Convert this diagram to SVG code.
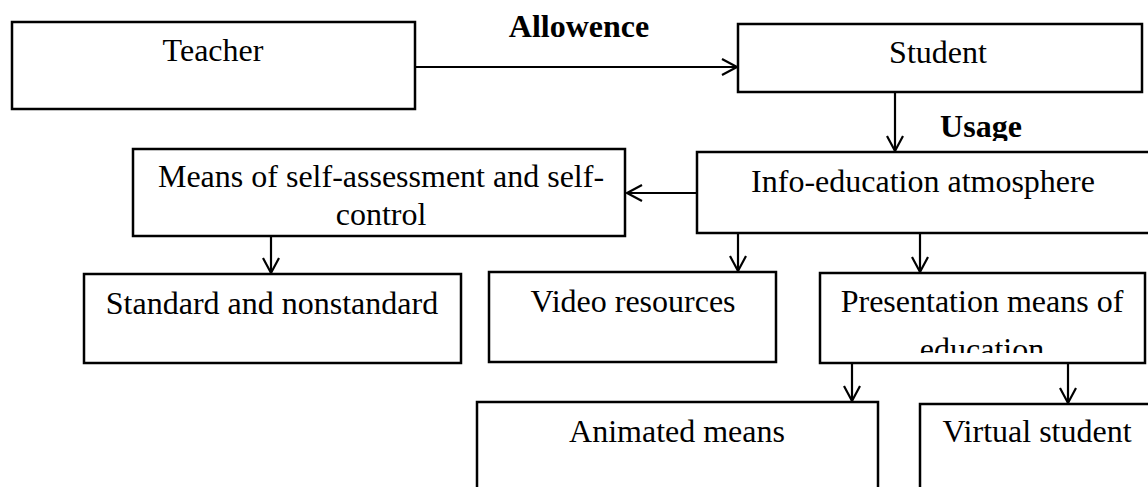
<svg xmlns="http://www.w3.org/2000/svg" width="1148" height="487" viewBox="0 0 1148 487">
<style>
.box{fill:#fff;stroke:#000;stroke-width:2.5}
.t{font-family:"Liberation Serif","Times New Roman",serif;font-size:32px;fill:#000;text-anchor:middle}
.b{font-weight:bold}
.c{stroke:#000;stroke-width:2.2;fill:none}
</style>
<defs>
<marker id="ah" markerUnits="userSpaceOnUse" markerWidth="20" markerHeight="20" refX="16" refY="9" orient="auto">
<path d="M1,1 L16,9 L1,17" fill="none" stroke="#000" stroke-width="2.2"/>
</marker>
<clipPath id="clipUsage"><rect x="900" y="100" width="200" height="41"/></clipPath>
<clipPath id="clipEdu"><rect x="820" y="320" width="330" height="33"/></clipPath>
</defs>
<rect width="1148" height="487" fill="#fff"/>
<g id="connectors">
<line class="c" x1="415" y1="67" x2="737" y2="67" marker-end="url(#ah)"/>
<line class="c" x1="895" y1="93" x2="895" y2="151" marker-end="url(#ah)"/>
<line class="c" x1="697" y1="193" x2="627" y2="193" marker-end="url(#ah)"/>
<line class="c" x1="271" y1="237" x2="271" y2="273" marker-end="url(#ah)"/>
<line class="c" x1="738" y1="234" x2="738" y2="271" marker-end="url(#ah)"/>
<line class="c" x1="920" y1="234" x2="920" y2="272" marker-end="url(#ah)"/>
<line class="c" x1="852" y1="364" x2="852" y2="401" marker-end="url(#ah)"/>
<line class="c" x1="1068" y1="364" x2="1068" y2="403" marker-end="url(#ah)"/>
</g>
<g id="label-allowence"><text class="t b" x="579" y="37">Allowence</text></g>
<g id="label-usage"><text class="t b" x="981" y="137" clip-path="url(#clipUsage)">Usage</text></g>
<g id="teacher"><rect class="box" x="12" y="22" width="403" height="87"/><text class="t" x="213" y="61">Teacher</text></g>
<g id="student"><rect class="box" x="738" y="24" width="404" height="68"/><text class="t" x="938" y="63">Student</text></g>
<g id="means"><rect class="box" x="133" y="149" width="492" height="87"/><text class="t" x="381" y="187">Means of self-assessment and self-</text><text class="t" x="381" y="225">control</text></g>
<g id="info"><rect class="box" x="697" y="152" width="460" height="81"/><text class="t" x="923" y="192">Info-education atmosphere</text></g>
<g id="standard"><rect class="box" x="84" y="274" width="377" height="89"/><text class="t" x="272" y="314">Standard and nonstandard</text></g>
<g id="video"><rect class="box" x="489" y="272" width="287" height="90"/><text class="t" x="633" y="312">Video resources</text></g>
<g id="presentation"><rect class="box" x="820" y="273" width="325" height="90"/><text class="t" x="982" y="312">Presentation means of</text><text class="t" x="982" y="360" clip-path="url(#clipEdu)">education</text></g>
<g id="animated"><rect class="box" x="477" y="402" width="401" height="100"/><text class="t" x="677" y="442">Animated means</text></g>
<g id="virtual"><rect class="box" x="920" y="404" width="240" height="100"/><text class="t" x="1037" y="442">Virtual student</text></g>
</svg>
